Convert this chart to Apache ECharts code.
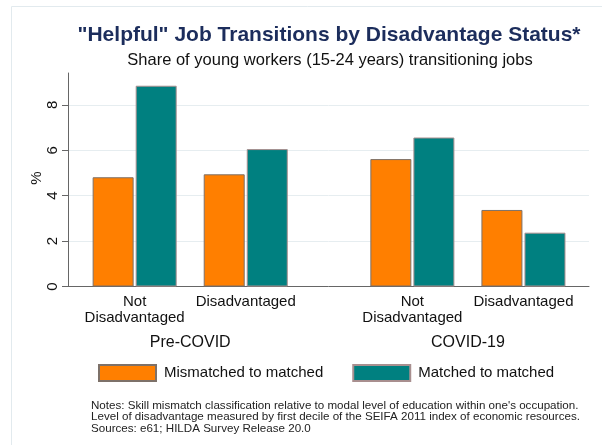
<!DOCTYPE html>
<html><head><meta charset="utf-8">
<script src="https://cdn.jsdelivr.net/npm/echarts@6/dist/echarts.min.js"></script>
<style>html,body{margin:0;padding:0;background:#fff}#c{width:602px;height:445px}</style>
</head><body><div id="c"></div>
<script>
const periods = ["Pre-COVID", "COVID-19"];
const categories = ["Not\nDisadvantaged", "Disadvantaged"];
const seriesNames = ["Mismatched to matched", "Matched to matched"];
const mismatchedToMatched = [4.81, 4.94, 5.61, 3.37];
const matchedToMatched = [8.84, 6.05, 6.56, 2.37];
const yTickValues = [0, 2, 4, 6, 8];
const yAxisTitle = "%";
const notes = [
  "Notes: Skill mismatch classification relative to modal level of education within one's occupation.",
  "Level of disadvantage measured by first decile of the SEIFA 2011 index of economic resources.",
  "Sources: e61; HILDA Survey Release 20.0"
];

const PERIOD_GAP = 0.5;
const slotPos = [], slotLabel = [];
periods.forEach((p, pi) => categories.forEach((c, ci) => {
  slotPos.push(pi * (categories.length + PERIOD_GAP) + ci);
  slotLabel.push(c);
}));
const periodPos = periods.map((p, pi) => pi * (categories.length + PERIOD_GAP) + (categories.length - 1) / 2);
const findIdx = (arr, v) => arr.findIndex(x => Math.abs(x - v) < 1e-6);

const FONT = "Liberation Sans, Arial, Helvetica, sans-serif";
const chart = echarts.init(document.getElementById('c'), null, {renderer: 'canvas'});
const X_MIN = -0.6, X_MAX = 4.09;

chart.setOption({
  backgroundColor: '#ffffff',
  animation: false,
  title: [
    {text: '"Helpful" Job Transitions by Disadvantage Status*', left: 324, top: 20, textAlign: 'center',
     textStyle: {fontFamily: FONT, fontSize: 21, fontWeight: 'bold', color: '#1c2d5c'}},
    {text: 'Share of young workers (15-24 years) transitioning jobs', left: 325, top: 47, textAlign: 'center',
     textStyle: {fontFamily: FONT, fontSize: 16.5, fontWeight: 'normal', color: '#111'}},
    {text: notes.join('\n'), left: 86, top: 395,
     textStyle: {fontFamily: FONT, fontSize: 11.6, lineHeight: 11.5, fontWeight: 'normal', color: '#222'}}
  ],
  graphic: [
    {type: 'rect', shape: {x: 11.5, y: 6.5, width: 700, height: 700}, style: {fill: 'none', stroke: '#e2eaee', lineWidth: 1}, silent: true, z: -10},
    {type: 'text', x: 37, y: 178, rotation: Math.PI / 2, silent: true,
     style: {text: yAxisTitle, fontFamily: FONT, fontSize: 15, fill: '#111', align: 'center', verticalAlign: 'middle'}}
  ],
  legend: {
    left: 98, top: 364, padding: 0, itemWidth: 57, itemHeight: 16, itemGap: 29,
    icon: 'rect',
    textStyle: {fontFamily: FONT, fontSize: 15, color: '#111', padding: [0, 0, 0, 3]},
    data: seriesNames
  },
  grid: {left: 68, right: 13, top: 73, bottom: 158.5, containLabel: false},
  xAxis: [
    {type: 'value', min: X_MIN, max: X_MAX, position: 'bottom',
     axisLine: {show: true, onZero: false, lineStyle: {color: '#666', width: 1}},
     axisTick: {show: false}, splitLine: {show: false},
     axisLabel: {customValues: slotPos, formatter: v => slotLabel[findIdx(slotPos, v)] || '',
       fontFamily: FONT, fontSize: 15, lineHeight: 16, color: '#111', margin: 7}},
    {type: 'value', min: X_MIN, max: X_MAX, position: 'bottom',
     axisLine: {show: false}, axisTick: {show: false}, splitLine: {show: false},
     axisLabel: {customValues: periodPos, formatter: v => periods[findIdx(periodPos, v)] || '',
       fontFamily: FONT, fontSize: 16, color: '#111', margin: 48}}
  ],
  yAxis: {
    type: 'value', min: 0, max: 9.4, interval: 2,
    axisLine: {show: true, onZero: false, lineStyle: {color: '#666', width: 1}},
    axisTick: {show: true, length: 6, lineStyle: {color: '#666'}, customValues: yTickValues},
    axisLabel: {rotate: 90, fontFamily: FONT, fontSize: 15, color: '#111', margin: 8, customValues: yTickValues},
    splitLine: {show: true, lineStyle: {color: '#e6edf0', width: 1}}
  },
  series: [
    {name: seriesNames[0], type: 'bar', xAxisIndex: 0, barWidth: 41, barGap: '5%',
     itemStyle: {color: '#ff7f00', borderColor: '#7d7169', borderWidth: 1},
     data: mismatchedToMatched.map((v, i) => [slotPos[i], v])},
    {name: seriesNames[1], type: 'bar', xAxisIndex: 0, barWidth: 41, barGap: '5%',
     itemStyle: {color: '#008080', borderColor: '#a88f8f', borderWidth: 1},
     data: matchedToMatched.map((v, i) => [slotPos[i], v])}
  ]
});
</script></body></html>
